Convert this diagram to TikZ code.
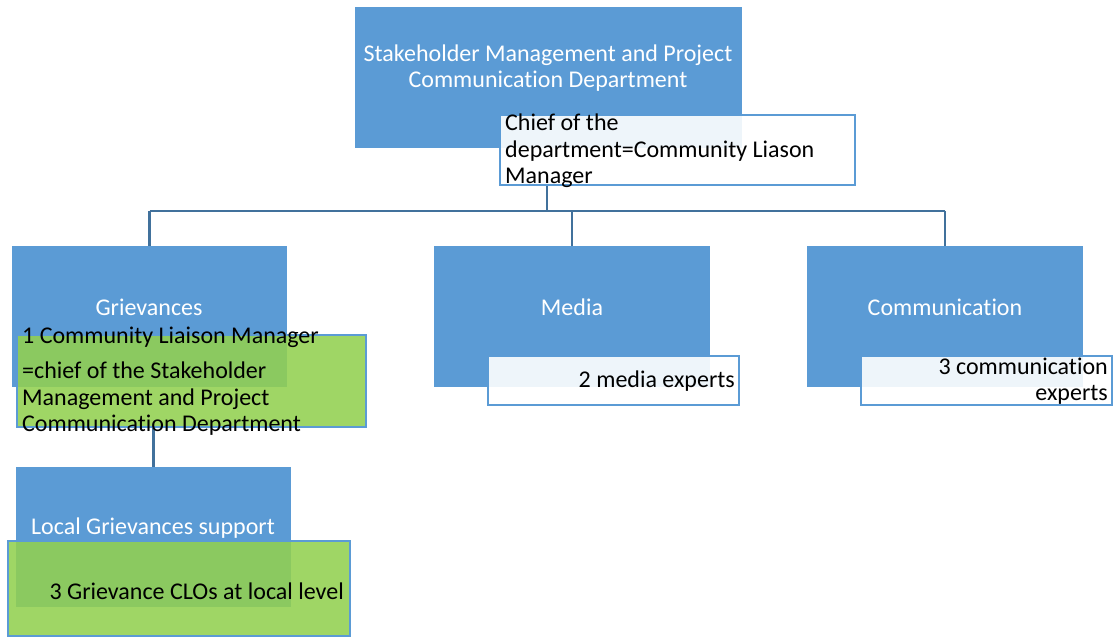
\documentclass[tikz,border=0pt]{standalone}
\usepackage{fontspec}
\setmainfont[Ligatures=NoCommon]{Carlito}
\definecolor{boxblue}{RGB}{91,155,213}
\definecolor{lineblue}{RGB}{65,113,156}
\definecolor{notegreen}{RGB}{146,208,80}

\begin{document}
\begin{tikzpicture}[x=1pt, y=-1pt,
    unit/.style 2 args={fill=boxblue, minimum width=#1, minimum height=#2, inner sep=0pt},
    note/.style 2 args={draw=boxblue, line width=1.8pt, fill=white, fill opacity=0.9, minimum width=#1, minimum height=#2, inner sep=0pt},
    greennote/.style 2 args={note={#1}{#2}, fill=notegreen, fill opacity=0.88},
    unittext/.style={text=white, font=\fontsize{24}{26.5}\selectfont, align=center, inner sep=0pt},
    notetext/.style={text=black, font=\fontsize{24}{26.5}\selectfont, inner sep=0pt},
    conn/.style={draw=lineblue, line width=2.2pt}]
    \useasboundingbox (0,0) rectangle (1116,637);
    % blue units
    \node[unit={387}{141}] (dept) at (548.5, 77.5) {};
    \node[unit={275}{141}] (griev) at (149.5, 316.5) {};
    \node[unit={276}{141}] (media) at (572, 316.5) {};
    \node[unit={276}{141}] (comm) at (945, 316.5) {};
    \node[unit={275}{140}] (localsup) at (153.5, 537) {};
    % notes on top of the units
    \node[note={355}{70}] (chief) at (677.5, 150) {};
    \node[greennote={349}{92}] (grievnote) at (191.5, 381) {};
    \node[greennote={342}{95}] (localnote) at (179, 588.5) {};
    \node[note={251}{49}] (medianote) at (613.5, 380.5) {};
    \node[note={251}{49}] (commnote) at (986.5, 380.5) {};
    % connectors
    \draw[conn] ([xshift=-130.5]chief.south) -- ++(0,25) coordinate (bus);
    \draw[conn] (bus -| griev.north) -- (bus -| comm.north);
    \draw[conn] (bus -| griev.north) -- (griev.north);
    \draw[conn] (bus -| media.north) -- (media.north);
    \draw[conn] (bus -| comm.north) -- (comm.north);
    \draw[conn] (localsup.north |- grievnote.south) -- (localsup.north);
    % texts
    \node[unittext] (depttxt) at (548, 68) {Stakeholder Management and Project\\Communication Department};
    \node[unittext] (grievtxt) at (149, 307) {Grievances};
    \node[unittext] (mediatxt) at (572, 307) {Media};
    \node[unittext] (commtxt) at (945, 307) {Communication};
    \node[unittext] (localtxt) at (153, 528) {Local Grievances support};
    \node[notetext, align=left, anchor=west] (chieftxt) at (505, 151) {Chief of the\\department=Community Liason\\Manager};
    \node[notetext, anchor=west] (grievtxta) at (22, 337) {1 Community Liaison Manager};
    \node[notetext, align=left, anchor=west] (grievtxtb) at (22, 399) {=chief of the Stakeholder\\Management and Project\\Communication Department};
    \node[notetext, anchor=east] (localnotetxt) at (344, 591) {3 Grievance CLOs at local level};
    \node[notetext, anchor=east] (medianotetxt) at (735, 381) {2 media experts};
    \node[notetext, align=right, anchor=east] (commnotetxt) at (1108, 381) {3 communication\\experts};
\end{tikzpicture}
\end{document}
